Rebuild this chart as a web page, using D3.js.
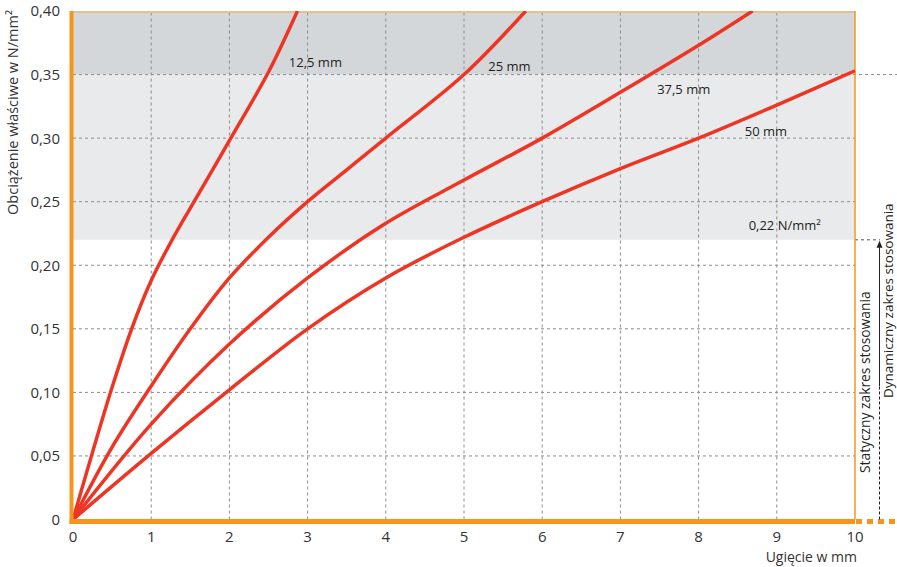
<!DOCTYPE html>
<html>
<head>
<meta charset="utf-8">
<script src="https://cdn.jsdelivr.net/npm/d3@7"></script>
<style>
	body { margin: 0; background: #fff; }
	text { font-family: "Open Sans", sans-serif; fill: #333; }
</style>
</head>
<body>
<div id="chart-area"></div>
<script>
// Data
var xTicks = [0, 1, 2, 3, 4, 5, 6, 7, 8, 9, 10];
var yTicks = [0, 0.05, 0.10, 0.15, 0.20, 0.25, 0.30, 0.35, 0.40];
var yTickLabels = ["0", "0,05", "0,10", "0,15", "0,20", "0,25", "0,30", "0,35", "0,40"];

var curveNames = ["12,5 mm", "25 mm", "37,5 mm", "50 mm"];

var curve125 = [[0, 0], [0.25, 0.053], [0.5, 0.104], [0.75, 0.150], [1.0, 0.188], [1.25, 0.218],
	[1.5, 0.245], [2.0, 0.298], [2.5, 0.352], [2.87, 0.40]];
var curve25 = [[0, 0], [0.5, 0.057], [1.0, 0.105], [1.5, 0.15], [2.0, 0.19], [2.5, 0.222],
	[3.0, 0.25], [3.5, 0.275], [4.0, 0.30], [5.0, 0.35], [5.79, 0.40]];
var curve375 = [[0, 0], [1.0, 0.075], [2.0, 0.138], [3.0, 0.19], [4.0, 0.233], [5.0, 0.267],
	[6.0, 0.30], [7.0, 0.336], [8.0, 0.373], [8.69, 0.40]];
var curve50 = [[0, 0], [1.0, 0.052], [2.0, 0.102], [3.0, 0.15], [4.0, 0.19], [5.0, 0.222],
	[6.0, 0.25], [7.0, 0.276], [8.0, 0.30], [9.0, 0.326], [10, 0.353]];

var curves = [curve125, curve25, curve375, curve50];

var staticLimit = 0.22;
var upperLimit = 0.35;
var staticLabel = "0,22 N/mm²";

var width = 897;
var height = 567;

var svg = d3.select("#chart-area").append("svg")
	.attr("width", width)
	.attr("height", height);

// Scales
var x = d3.scaleLinear()
	.domain([0, 10])
	.range([73, 855]);

var y = d3.scaleLinear()
	.domain([0, 0.40])
	.range([519.5, 11]);

var orange = "#f7941d";
var red = "#ee3524";

// Bands
svg.append("rect")
	.attr("x", x(0))
	.attr("y", y(0.40))
	.attr("width", x(10) - x(0))
	.attr("height", y(upperLimit) - y(0.40))
	.attr("fill", "#d4d7da");

svg.append("rect")
	.attr("x", x(0))
	.attr("y", y(upperLimit))
	.attr("width", x(10) - x(0))
	.attr("height", y(staticLimit) - y(upperLimit))
	.attr("fill", "#e9eaec");

// Grid
var grid = svg.append("g")
	.attr("stroke", "#8c8c8c")
	.attr("stroke-width", 1)
	.attr("stroke-dasharray", "3,3");

grid.selectAll(".vgrid")
	.data(xTicks.slice(1, -1))
	.enter().append("line")
	.attr("x1", (d) => x(d))
	.attr("x2", (d) => x(d))
	.attr("y1", y(0))
	.attr("y2", y(0.40));

grid.selectAll(".hgrid")
	.data(yTicks.slice(1, -1))
	.enter().append("line")
	.attr("x1", x(0))
	.attr("x2", (d) => d == upperLimit ? width : x(10))
	.attr("y1", (d) => y(d))
	.attr("y2", (d) => y(d));

grid.append("line")
	.attr("x1", x(10))
	.attr("x2", 880)
	.attr("y1", y(staticLimit))
	.attr("y2", y(staticLimit))
	.attr("stroke", "#555");

// Frame
svg.append("line")
	.attr("x1", x(0))
	.attr("x2", x(10))
	.attr("y1", y(0.40) + 1)
	.attr("y2", y(0.40) + 1)
	.attr("stroke", "#e2c092")
	.attr("stroke-width", 2);

svg.append("line")
	.attr("x1", x(10))
	.attr("x2", x(10))
	.attr("y1", y(0.40))
	.attr("y2", y(0))
	.attr("stroke", orange)
	.attr("stroke-width", 1.5);

// Curves
svg.append("clipPath")
	.attr("id", "plot-clip")
	.append("rect")
	.attr("x", x(0))
	.attr("y", y(0.40))
	.attr("width", x(10) - x(0) + 2)
	.attr("height", y(0) - y(0.40));

var line = d3.line()
	.x((d) => x(d[0]))
	.y((d) => y(d[1]))
	.curve(d3.curveCatmullRom.alpha(0.5));

svg.append("g")
	.attr("clip-path", "url(#plot-clip)")
	.selectAll("path")
	.data(curves)
	.enter().append("path")
	.attr("d", line)
	.attr("fill", "none")
	.attr("stroke", red)
	.attr("stroke-width", 3.5)
	.attr("stroke-linejoin", "round");

// Axes (orange)
svg.append("line")
	.attr("x1", x(0) - 1.5)
	.attr("x2", x(0) - 1.5)
	.attr("y1", y(0.40))
	.attr("y2", y(0) + 4)
	.attr("stroke", orange)
	.attr("stroke-width", 4);

svg.append("line")
	.attr("x1", x(0) - 3.5)
	.attr("x2", x(10))
	.attr("y1", y(0) + 2)
	.attr("y2", y(0) + 2)
	.attr("stroke", orange)
	.attr("stroke-width", 5);

svg.append("line")
	.attr("x1", x(10) + 1)
	.attr("x2", width)
	.attr("y1", y(0) + 2)
	.attr("y2", y(0) + 2)
	.attr("stroke", orange)
	.attr("stroke-width", 5)
	.attr("stroke-dasharray", "6,5");

// Tick labels
svg.selectAll(".ylab")
	.data(yTicks)
	.enter().append("text")
	.attr("x", 60)
	.attr("y", (d) => y(d))
	.attr("dy", "0.36em")
	.attr("text-anchor", "end")
	.style("font-size", "15px")
	.text((d, i) => yTickLabels[i]);

svg.selectAll(".xlab")
	.data(xTicks)
	.enter().append("text")
	.attr("x", (d) => x(d))
	.attr("y", 542)
	.attr("text-anchor", "middle")
	.style("font-size", "15px")
	.text((d) => d);

// Axis titles
svg.append("text")
	.attr("x", 857)
	.attr("y", 562)
	.attr("text-anchor", "end")
	.style("font-size", "14px")
	.text("Ugięcie w mm");

svg.append("text")
	.attr("transform", "translate(18, 10) rotate(-90)")
	.attr("text-anchor", "end")
	.style("font-size", "14.5px")
	.text("Obciążenie właściwe w N/mm²");

// Curve labels
var labelPos = [[2.76, 0.356], [5.31, 0.3525], [7.47, 0.3345], [8.59, 0.302]];

svg.selectAll(".clab")
	.data(curveNames)
	.enter().append("text")
	.attr("x", (d, i) => x(labelPos[i][0]))
	.attr("y", (d, i) => y(labelPos[i][1]))
	.style("font-size", "13px")
	.style("fill", "#231f20")
	.text((d) => d);

svg.append("text")
	.attr("x", x(8.64))
	.attr("y", y(0.2276))
	.style("font-size", "13px")
	.style("fill", "#231f20")
	.text(staticLabel);

// Application range markers
svg.append("line")
	.attr("x1", 879.5)
	.attr("x2", 879.5)
	.attr("y1", y(0))
	.attr("y2", y(0.105))
	.attr("stroke", "#222")
	.attr("stroke-width", 1)
	.attr("stroke-dasharray", "3,2");

svg.append("line")
	.attr("x1", 879.5)
	.attr("x2", 879.5)
	.attr("y1", y(0.105))
	.attr("y2", y(staticLimit) + 6)
	.attr("stroke", "#222")
	.attr("stroke-width", 1);

svg.append("path")
	.attr("d", "M" + 879.5 + "," + (y(staticLimit) + 1) +
		"L" + 876.5 + "," + (y(staticLimit) + 8) +
		"L" + 882.5 + "," + (y(staticLimit) + 8) + "Z")
	.attr("fill", "#222");

svg.append("text")
	.attr("transform", "translate(870, 473) rotate(-90)")
	.style("font-size", "13.8px")
	.style("fill", "#231f20")
	.text("Statyczny zakres stosowania");

svg.append("text")
	.attr("transform", "translate(893, 398) rotate(-90)")
	.style("font-size", "13.5px")
	.style("fill", "#231f20")
	.text("Dynamiczny zakres stosowania");
</script>
</body>
</html>
